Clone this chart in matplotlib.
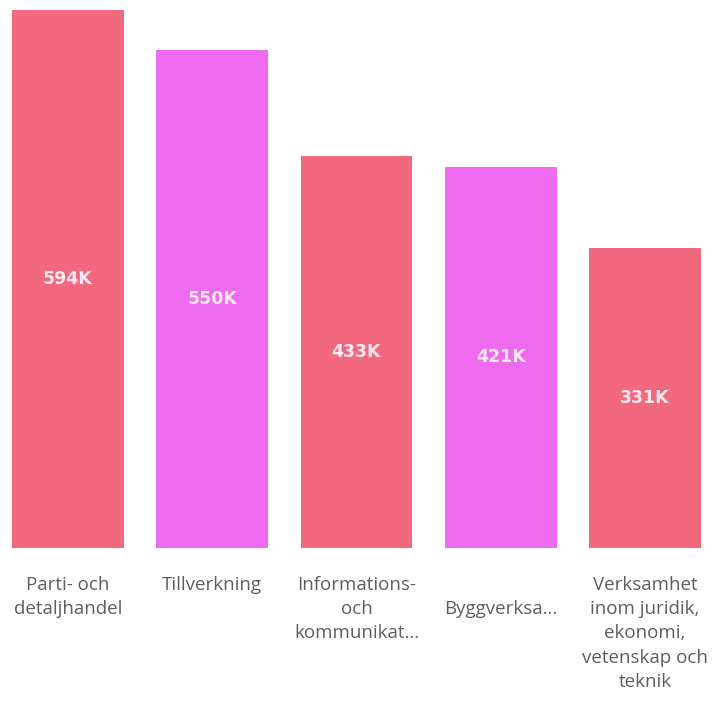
import matplotlib
matplotlib.use("Agg")
import matplotlib.pyplot as plt

# Branscher och antal sysselsatta
categories = [
    "Parti- och\ndetaljhandel",
    "Tillverkning",
    "Informations-\noch\nkommunikat...",
    "\nByggverksa...",
    "Verksamhet\ninom juridik,\nekonomi,\nvetenskap och\nteknik",
]
values = [594, 550, 433, 421, 331]
value_labels = ["594K", "550K", "433K", "421K", "331K"]
colors = ["#F2687E", "#EE6AEF", "#F2687E", "#EE6AEF", "#F2687E"]

fig = plt.figure(figsize=(7.15, 7.04), dpi=100)
ax = fig.add_axes([0, 0.2216, 1, 0.7784])

x = range(len(values))
bars = ax.bar(x, values, width=0.776, color=colors)

for bar, lbl in zip(bars, value_labels):
    ax.text(bar.get_x() + bar.get_width() / 2, bar.get_height() / 2, lbl,
            ha="center", va="center", color="#FFE8F0", fontsize=12.5,
            fontweight="bold", family="DejaVu Sans")

ax.set_xlim(-0.471, 4.485)
ax.set_ylim(0, 605)
ax.set_xticks(list(x))
ax.set_xticklabels(categories, fontsize=13.5, color="#605E5C",
                   family="Open Sans", linespacing=1.45, va="top")
ax.tick_params(axis="x", length=0, pad=20)
ax.set_yticks([])
for s in ax.spines.values():
    s.set_visible(False)

fig.savefig("out.png", dpi=100)
